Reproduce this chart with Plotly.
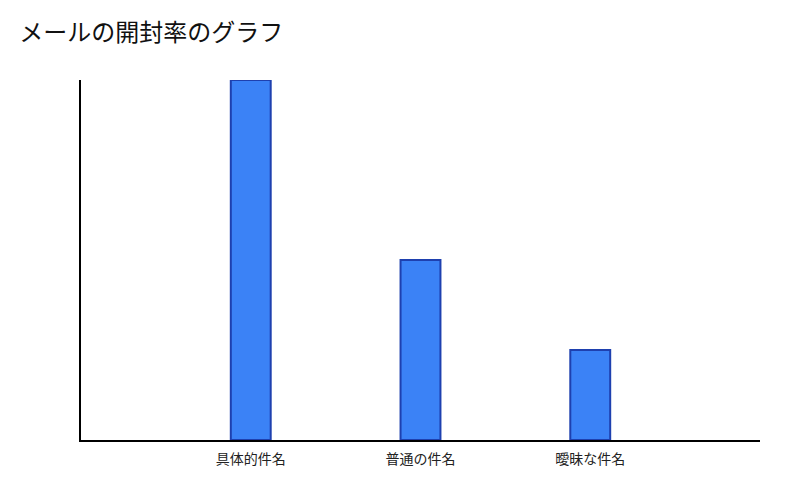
import plotly.graph_objects as go

# データ
categories = ["具体的件名", "普通の件名", "曖昧な件名"]
open_rates = [40, 20, 10]

fig = go.Figure()
fig.add_trace(go.Bar(
    x=categories,
    y=open_rates,
    width=0.235,
    marker=dict(color="#3b82f6", line=dict(color="#1e40af", width=2)),
))

fig.update_layout(
    width=800, height=500,
    title=dict(text="メールの開封率のグラフ", x=0.014, xanchor="left", y=0.95, yanchor="middle",
               font=dict(size=24, color="#111111")),
    font=dict(family="Noto Sans CJK JP", size=14, color="#222222"),
    margin=dict(l=73, r=48, t=72, b=68),
    plot_bgcolor="white", paper_bgcolor="white",
    showlegend=False,
)
fig.update_xaxes(range=[-1, 3], showline=True, linecolor="black", linewidth=2,
                 showgrid=False, ticks="", ticklabelstandoff=5)
fig.update_yaxes(range=[0, 40], showline=True, linecolor="black", linewidth=2,
                 showgrid=False, showticklabels=False, zeroline=False, ticks="")

fig.write_html("out.html")
